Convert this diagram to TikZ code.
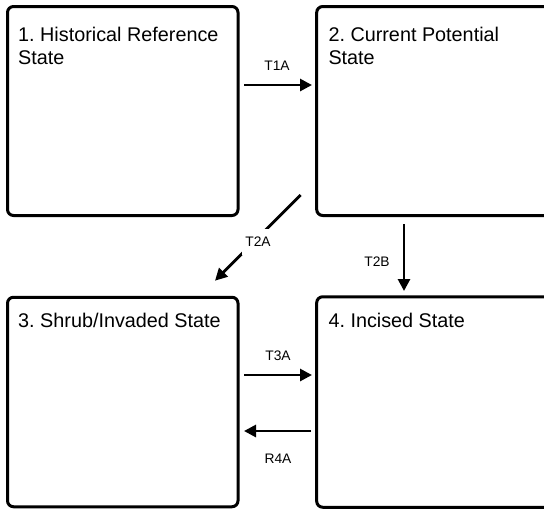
\documentclass[tikz,border=0pt]{standalone}
\usepackage{fontspec}
\setmainfont{Liberation Sans}
\usetikzlibrary{arrows.meta}
\frenchspacing
\begin{document}
\begin{tikzpicture}[x=1pt,y=-1pt,
  statebox/.style={draw, line width=3pt, rounded corners=6pt, inner sep=0pt, rectangle},
  titletext/.style={anchor=north west, align=left, inner sep=0pt, font=\fontsize{19.8}{23}\selectfont},
  conn/.style={line width=2.8pt, -{Triangle[length=12pt,width=12pt]}},
  lbl/.style={inner sep=0pt, font=\fontsize{13.8}{16}\selectfont}]
\useasboundingbox (0,0) rectangle (544,509);
\clip (0,0) rectangle (544,509);
% boxes
\node[statebox, minimum width=230.5pt, minimum height=209pt] (b1) at (122.75,111) {};
\node[statebox, minimum width=235.3pt, minimum height=209pt] (b2) at (434.35,111) {};
\node[statebox, minimum width=230.5pt, minimum height=209.5pt] (b3) at (122.75,402) {};
\node[statebox, minimum width=235.3pt, minimum height=210.5pt] (b4) at (434.35,402) {};
% titles
\node[titletext] (t1) at (18,26.7) {1. Historical Reference\\State};
\node[titletext] (t2) at (328.3,26.7) {2. Current Potential\\State};
\node[titletext] (t3) at (18,313.2) {3. Shrub/Invaded State};
\node[titletext] (t4) at (328.3,313.2) {4. Incised State};
% connector ends
\coordinate (a1s) at (244,85);
\coordinate (a1e) at (312,85);
\coordinate (a2s) at (300.7,195);
\coordinate (a2e) at (215,280.7);
\coordinate (a3s) at (404,224);
\coordinate (a3e) at (404,291);
\coordinate (a4s) at (244,375);
\coordinate (a4e) at (312,375);
\coordinate (a5s) at (311,431);
\coordinate (a5e) at (244,431);
% connectors
\draw[conn] (a1s) -- (a1e);
\node[lbl] (l1) at (277,66) {T1A};
\draw[conn] (a2s) -- (a2e);
\node[lbl, fill=white, inner xsep=3pt, inner ysep=8pt] (l2) at (258,242) {T2A};
\draw[conn] (a3s) -- (a3e);
\node[lbl] (l3) at (377,262) {T2B};
\draw[conn] (a4s) -- (a4e);
\node[lbl] (l4) at (278,356) {T3A};
\draw[conn] (a5s) -- (a5e);
\node[lbl] (l5) at (278,459) {R4A};
\end{tikzpicture}
\end{document}
